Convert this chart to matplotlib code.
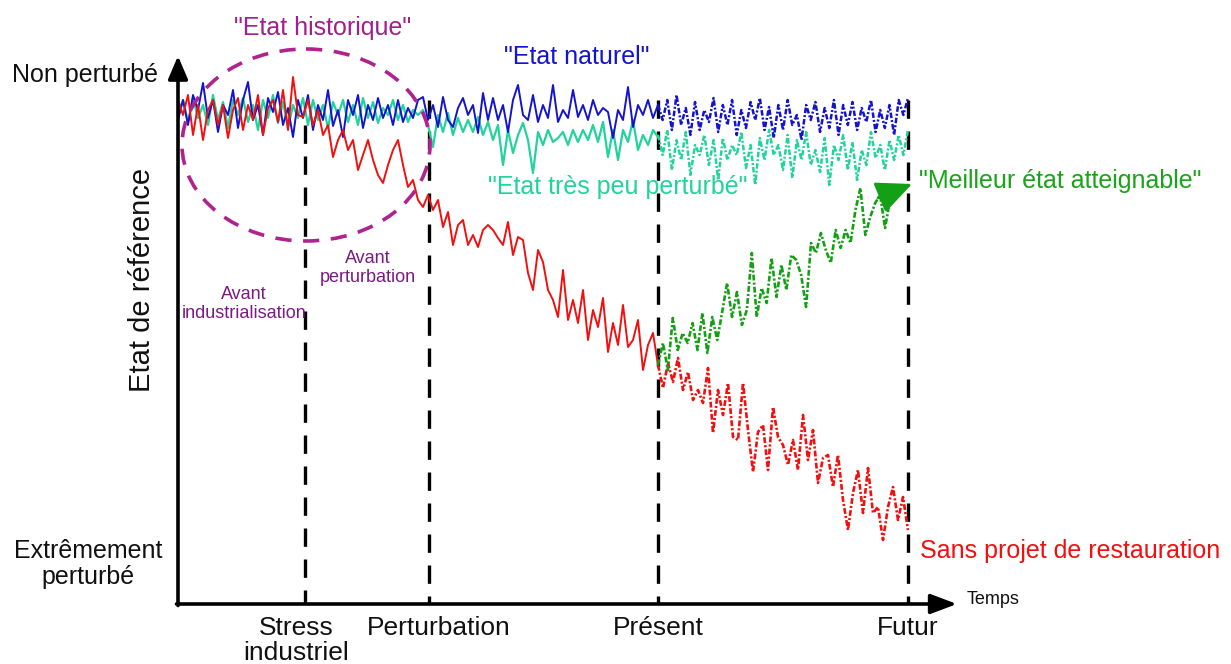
import numpy as np
import matplotlib
matplotlib.use("Agg")
import matplotlib.pyplot as plt
from matplotlib import font_manager
from matplotlib.patches import Ellipse

# ---------------- data ----------------
# time axis (arbitrary units, origin at the y axis)
event_labels = ["Stress\nindustriel", "Perturbation", "Présent", "Futur"]
event_times = [127, 251, 480, 730]
t_start, t_present, t_future = 0, 480, 730
t_green_end = 712

# degradation (0 = top, increasing downward)
naturel_passe = [60, 40, 65, 35, 50, 23, 58, 40, 72, 45, 55, 30, 68, 40, 22, 60, 45, 75, 38, 52,
                 32, 65, 48, 77, 40, 58, 35, 70, 45, 60, 30, 66, 50, 77, 40, 55, 35, 68, 45, 60,
                 38, 58, 45, 65, 40, 62, 48, 58, 40,
                 37, 60, 45, 67, 37, 60, 67, 48, 38, 55, 45, 73, 33, 60, 38, 60, 45, 72, 40, 25,
                 55, 60, 35, 62, 45, 58, 25, 62, 50, 58, 30, 57, 45, 60, 40, 55, 48, 52, 78, 50,
                 60, 27, 67, 45, 55, 40, 58, 45]
naturel_futur = [45, 60, 40, 70, 35, 65, 48, 75, 42, 70, 50, 62, 38, 72, 45, 65, 40, 75, 50, 68,
                 42, 60, 38, 70, 47, 78, 45, 70, 40, 65, 55, 80, 45, 60, 42, 72, 48, 68, 40, 75,
                 45, 65, 42, 70, 48, 62, 40, 72, 50, 68, 45, 75, 40, 55, 38]
peu_perturbe_passe = [55, 40, 62, 38, 58, 45, 65, 35, 60, 42, 68, 40, 55, 38, 62, 45, 70, 40, 58, 35,
                      63, 42, 68, 45, 58, 38, 65, 40, 60, 45, 68, 42, 55, 40, 62, 45, 65, 38, 58, 42,
                      63, 48, 55, 40, 60, 45, 62, 50, 55,
                      50, 65, 87, 55, 72, 53, 75, 58, 72, 60, 72, 57, 75, 62, 80, 65, 105, 70, 93, 75,
                      63, 80, 113, 72, 85, 70, 82, 78, 72, 85, 70, 82, 70, 80, 65, 82, 62, 97, 70, 100,
                      70, 82, 60, 90, 75, 85, 70, 77]
peu_perturbe_futur = [75, 95, 70, 110, 80, 100, 72, 115, 85, 95, 75, 105, 80, 120, 78, 100, 85, 95, 72, 108,
                      85, 125, 78, 100, 70, 95, 85, 110, 75, 118, 80, 100, 72, 105, 90, 112, 78, 125, 85, 100,
                      75, 110, 82, 120, 90, 105, 72, 98, 85, 110, 80, 100, 75, 95, 70]
degrade_passe = [40, 55, 35, 75, 45, 80, 50, 40, 65, 45, 78, 50, 38, 70, 45, 60, 35, 75, 48, 40,
                 62, 30, 70, 17, 55,
                 57, 40, 65, 50, 75, 65, 97, 80, 70, 90, 80, 110, 95, 80, 100, 115, 123, 105, 90, 80,
                 105, 127, 120, 140, 147, 135, 150, 140, 167, 152, 185, 165, 160, 185, 175, 187, 170, 165, 170, 178,
                 185, 162, 195, 177, 180, 213, 230, 190, 202, 230, 240, 257, 210, 260, 240, 263, 230, 280, 250, 267,
                 238, 292, 263, 285, 245, 287, 280, 260, 310, 285, 273, 305]
sans_restauration = [305, 328, 303, 322, 298, 330, 312, 340, 330, 343, 308, 373, 330, 355, 323, 377, 380, 323, 370, 412,
                     372, 365, 410, 347, 377, 385, 405, 380, 410, 355, 400, 370, 423, 398, 395, 427, 395, 440, 470, 433,
                     410, 453, 408, 453, 447, 480, 447, 427, 460, 437, 470]
meilleur_etat = [305, 283, 310, 258, 290, 273, 283, 263, 290, 253, 293, 257, 280, 252, 223, 257, 232, 265, 250, 193,
                 257, 228, 243, 198, 237, 205, 230, 195, 200, 215, 247, 183, 193, 173, 190, 203, 170, 188, 170, 183,
                 150, 128, 175, 157, 143, 135, 168, 140]

# ---------------- style ----------------
names = {f.name for f in font_manager.fontManager.ttflist}
SANS = "Liberation Sans" if "Liberation Sans" in names else "DejaVu Sans"
NARROW = "Liberation Sans Narrow" if "Liberation Sans Narrow" in names else SANS
plt.rcParams["font.family"] = [SANS, "DejaVu Sans"]

BLUE = "#1414CC"
TEAL = "#22D39C"
RED = "#F01010"
GREEN = "#14A014"
MAGENTA = "#B0228E"
PURPLE = "#7A1A82"

fig = plt.figure(figsize=(12.31, 6.64), dpi=100)
ax = fig.add_axes([0, 0, 1, 1])
ax.set_xlim(-178, 1231 - 178)
ax.set_ylim(604, -60)
ax.axis("off")

base = 544  # position of the time axis
dot = (0, (2.2, 0.8, 0.8, 0.8))

def seg(vals, t0, t1):
    return np.linspace(t0, t1, len(vals)), np.asarray(vals)

# vertical event lines
for i, t in enumerate(event_times):
    top = 65 if i == 0 else 40
    ax.plot([t, t], [top, base], color="black", lw=2.4, ls=(0, (5.5, 3.8)), zorder=1)

# series
x, y = seg(naturel_passe, t_start, t_present)
ax.plot(x, y, color=BLUE, lw=1.4, zorder=3)
x, y = seg(naturel_futur, t_present, t_future)
ax.plot(x, y, color=BLUE, lw=1.8, ls=dot, zorder=3)
x, y = seg(peu_perturbe_passe, t_start, t_present)
ax.plot(x, y, color=TEAL, lw=1.6, zorder=2)
x, y = seg(peu_perturbe_futur, t_present, t_future)
ax.plot(x, y, color=TEAL, lw=1.8, ls=dot, zorder=2)
x, y = seg(degrade_passe, t_start, t_present)
ax.plot(x, y, color=RED, lw=1.4, zorder=4)
x, y = seg(sans_restauration, t_present, t_future)
ax.plot(x, y, color=RED, lw=1.9, ls=dot, zorder=4)
x, y = seg(meilleur_etat, t_present, t_green_end)
ax.plot(x, y, color=GREEN, lw=1.9, ls=dot, zorder=4)
ax.annotate("", xy=(t_future + 4, 124), xytext=(t_green_end - 12, 138),
            arrowprops=dict(arrowstyle="-|>,head_length=1.1,head_width=0.5", mutation_scale=20,
                            color=GREEN, lw=2, shrinkA=0, shrinkB=0), zorder=5)

# historic ellipse
ax.add_patch(Ellipse((128, 85), 248, 192, fill=False, ec=MAGENTA, lw=2.6,
                     ls=(0, (4.5, 3.2)), zorder=5))

# axes arrows
ax.annotate("", xy=(0, -4), xytext=(0, base + 1.5),
            arrowprops=dict(arrowstyle="-|>,head_length=0.7,head_width=0.3", mutation_scale=20,
                            color="black", lw=2.6, shrinkA=0, shrinkB=0), zorder=6)
ax.annotate("", xy=(779, base), xytext=(-1.5, base),
            arrowprops=dict(arrowstyle="-|>,head_length=0.8,head_width=0.3", mutation_scale=20,
                            color="black", lw=2.6, shrinkA=0, shrinkB=0), zorder=6)

# axis texts
ax.text(-166, 15, "Non perturbé", fontsize=18, ha="left", va="center", color="#111111")
ax.text(-90, 504, "Extrêmement\nperturbé", fontsize=18, ha="center", va="center",
        linespacing=1.15, color="#111111")
ax.text(-36, 220, "Etat de référence", fontsize=21, rotation=90, ha="center", va="center",
        color="#111111")
for lab, t in zip(event_labels, event_times):
    ax.text(t - (9 if "\n" in lab else -10 if lab == "Perturbation" else 0), 556, lab,
            fontsize=19, family=[NARROW, "DejaVu Sans"], ha="center", va="top",
            linespacing=1.05, color="#111111")
ax.text(789, 540, "Temps", fontsize=13, family=[NARROW, "DejaVu Sans"], ha="left", va="center",
        color="#111111")

# annotations
ax.text(145, -32, '"Etat historique"', fontsize=18, color="#A0208C", ha="center", va="center")
ax.text(399, -3, '"Etat naturel"', fontsize=18, color=BLUE, ha="center", va="center")
ax.text(440, 127, '"Etat très peu perturbé"', fontsize=18, color=TEAL, ha="center", va="center")
ax.text(741, 121, '"Meilleur état atteignable"', fontsize=18, color="#19A519", ha="left", va="center")
ax.text(742, 491, "Sans projet de restauration", fontsize=18, color=RED, ha="left", va="center")
ax.text(66, 244, "Avant\nindustrialisation", fontsize=13, color=PURPLE, ha="center", va="center",
        linespacing=1.15)
ax.text(190, 208, "Avant\nperturbation", fontsize=13, color=PURPLE, ha="center", va="center",
        linespacing=1.15)

fig.savefig("out.png", dpi=100)
